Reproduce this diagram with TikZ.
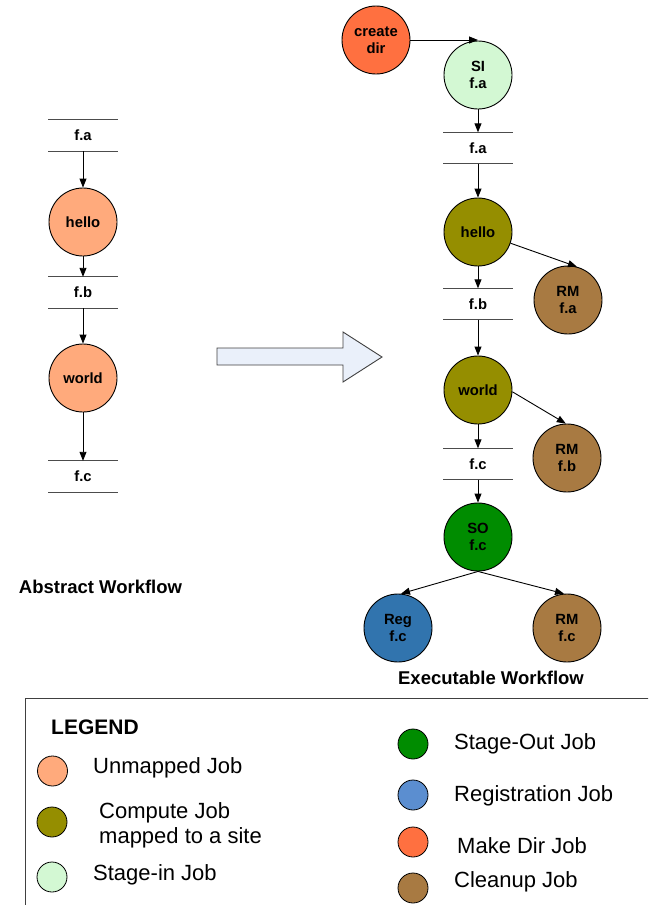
\documentclass[tikz,border=0pt]{standalone}
\usepackage{fontspec}
\setmainfont{Liberation Sans}
\usetikzlibrary{arrows.meta,shapes.geometric}
\definecolor{unmapped}{HTML}{FFAA7C}
\definecolor{compute}{HTML}{958E00}
\definecolor{stagein}{HTML}{D3F8D3}
\definecolor{stageout}{HTML}{008C00}
\definecolor{regnode}{HTML}{3174AE}
\definecolor{reglegend}{HTML}{5B8ED0}
\definecolor{mkdir}{HTML}{FF7040}
\definecolor{cleanup}{HTML}{A87A42}
\definecolor{bigarrow}{HTML}{EAF0FA}
\begin{document}
\begin{tikzpicture}[x=1pt,y=-1pt,
  job/.style={circle,draw=black,line width=0.9pt,minimum size=68pt,inner sep=0pt,
    font=\fontsize{14.8}{17}\selectfont\bfseries,align=center},
  filebox/.style={minimum width=69pt,minimum height=31pt,inner sep=0pt,
    font=\fontsize{14.8}{17}\selectfont\bfseries},
  fline/.style={draw=black!70,line width=0.9pt},
  conn/.style={draw=black,line width=0.9pt,-{Triangle[length=9pt,width=7pt]}},
  title/.style={font=\fontsize{18.5}{20}\selectfont\bfseries},
  legdot/.style={circle,draw=black,line width=0.8pt,minimum size=30pt,inner sep=0pt},
  legtext/.style={anchor=west,font=\fontsize{22}{25}\selectfont,align=left,inner sep=0pt}]
\clip (0,0) rectangle (648,905);
% ---------- abstract workflow ----------
\node[filebox] (lfa) at (83,135.5) {f.a};
\node[job,fill=unmapped] (lhello) at (83,222) {hello};
\node[filebox] (lfb) at (83,292.5) {f.b};
\node[job,fill=unmapped] (lworld) at (83,378) {world};
\node[filebox] (lfc) at (83,476.5) {f.c};
\foreach \f in {lfa,lfb,lfc}{
  \draw[fline] (\f.north west) -- (\f.north east);
  \draw[fline] (\f.south west) -- (\f.south east);
}
\draw[conn] (lfa.south) -- (lhello.north);
\draw[conn] (lhello.south) -- (lfb.north);
\draw[conn] (lfb.south) -- (lworld.north);
\draw[conn] (lworld.south) -- (lfc.north);
\node[title] (abs) at (100.5,587) {Abstract Workflow};
% ---------- big arrow ----------
\draw[fill=bigarrow,draw=black!75,line width=0.9pt]
  (217,348) -- (343,348) -- (343,332) -- (382,357) -- (343,382) -- (343,365) -- (217,365) -- cycle;
% ---------- executable workflow ----------
\node[job,fill=mkdir] (cd) at (376,40) {create\\dir};
\node[job,fill=stagein] (si) at (478,75) {SI\\f.a};
\node[filebox] (rfa) at (478,148) {f.a};
\node[job,fill=compute] (rhello) at (478,232) {hello};
\node[job,fill=cleanup] (rmfa) at (568,300) {RM\\f.a};
\node[filebox] (rfb) at (478,304) {f.b};
\node[job,fill=compute] (rworld) at (478,390) {world};
\node[job,fill=cleanup] (rmfb) at (567,458) {RM\\f.b};
\node[filebox] (rfc) at (478,464) {f.c};
\node[job,fill=stageout] (so) at (478,537) {SO\\f.c};
\node[job,fill=regnode] (reg) at (398,628) {Reg\\f.c};
\node[job,fill=cleanup] (rmfc) at (567,628) {RM\\f.c};
\foreach \f in {rfa,rfb,rfc}{
  \draw[fline] (\f.north west) -- (\f.north east);
  \draw[fline] (\f.south west) -- (\f.south east);
}
\draw[conn] (cd.east) -- (cd.east -| si.north);
\draw[conn] (si.south) -- (rfa.north);
\draw[conn] (rfa.south) -- (rhello.north);
\draw[conn] (rhello.south) -- (rfb.north);
\draw[conn] (rhello.-19) -- (rmfa.75);
\draw[conn] (rfb.south) -- (rworld.north);
\draw[conn] (rworld.south) -- (rfc.north);
\draw[conn] (rworld.-3) -- (rmfb.92);
\draw[conn] (rfc.south) -- (so.north);
\draw[conn] (so.south) -- (reg.85);
\draw[conn] (so.south) -- (rmfc.95);
\node[title] (exe) at (491,678) {Executable Workflow};
% ---------- legend ----------
\draw[draw=black!75,line width=0.9pt] (25,920) -- (25,698) -- (660,698);
\node[anchor=west,inner sep=0pt,font=\fontsize{21}{22}\selectfont\bfseries] (leg) at (51,727) {LEGEND};
\node[legdot,fill=unmapped] (d1) at (52.5,771) {};
\node[legtext] (t1) at (93,768) {Unmapped Job};
\node[legdot,fill=compute] (d2) at (52,822) {};
\node[legtext] (t2) at (99,825.5) {Compute Job\\mapped to a site};
\node[legdot,fill=stagein] (d3) at (52,877) {};
\node[legtext] (t3) at (93,875) {Stage-in Job};
\node[legdot,fill=stageout] (d4) at (413,744) {};
\node[legtext] (t4) at (454,744) {Stage-Out Job};
\node[legdot,fill=reglegend] (d5) at (413,795) {};
\node[legtext] (t5) at (454,796) {Registration Job};
\node[legdot,fill=mkdir] (d6) at (413,842) {};
\node[legtext] (t6) at (457,846) {Make Dir Job};
\node[legdot,fill=cleanup] (d7) at (413,888) {};
\node[legtext] (t7) at (454,882) {Cleanup Job};
\end{tikzpicture}
\end{document}
